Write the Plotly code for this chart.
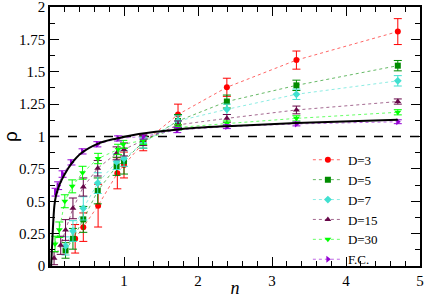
import plotly.graph_objects as go

# ---- data ----
n_d3 = [0.34, 0.45, 0.65, 0.91, 1.0, 1.26, 1.73, 2.39, 3.33, 4.70]
rho_d3 = [0.21, 0.30, 0.466, 0.716, 0.78, 0.95, 1.17, 1.38, 1.59, 1.81]
err_d3 = [0.11, 0.11, 0.165, 0.12, 0.10, 0.06, 0.08, 0.07, 0.07, 0.10]

n_d5 = [0.21, 0.31, 0.45, 0.645, 0.9, 1.0, 1.26, 1.73, 2.39, 3.33, 4.70]
rho_d5 = [0.12, 0.21, 0.36, 0.58, 0.77, 0.81, 0.96, 1.12, 1.27, 1.395, 1.547]
err_d5 = [0.06, 0.08, 0.10, 0.10, 0.07, 0.10, 0.05, 0.05, 0.05, 0.04, 0.04]

n_d7 = [0.21, 0.31, 0.45, 0.645, 0.9, 1.0, 1.26, 1.73, 2.39, 3.33, 4.70]
rho_d7 = [0.155, 0.27, 0.445, 0.64, 0.805, 0.83, 0.95, 1.12, 1.21, 1.326, 1.43]
err_d7 = [0.07, 0.08, 0.09, 0.08, 0.06, 0.06, 0.04, 0.04, 0.04, 0.04, 0.04]

n_d15 = [0.055, 0.145, 0.21, 0.31, 0.45, 0.645, 0.9, 1.0, 1.26, 1.73, 2.39, 3.33, 4.70]
rho_d15 = [0.06, 0.16, 0.278, 0.445, 0.61, 0.755, 0.87, 0.90, 0.97, 1.09, 1.14, 1.205, 1.27]
err_d15 = [0.05, 0.07, 0.08, 0.08, 0.07, 0.06, 0.05, 0.05, 0.04, 0.03, 0.03, 0.03, 0.02]

n_d30 = [0.068, 0.126, 0.2, 0.3, 0.44, 0.65, 0.92, 0.99, 1.26, 1.73, 2.39, 3.33, 4.70]
rho_d30 = [0.17, 0.28, 0.50, 0.615, 0.72, 0.83, 0.90, 0.94, 0.97, 1.07, 1.10, 1.14, 1.187]
err_d30 = [0.06, 0.06, 0.05, 0.05, 0.05, 0.04, 0.04, 0.03, 0.03, 0.02, 0.02, 0.02, 0.02]

n_fc = [0.075, 0.11, 0.17, 0.29, 0.44, 0.64, 0.92, 1.26, 1.72, 2.39, 3.33, 4.70]
rho_fc = [0.57, 0.62, 0.71, 0.80, 0.885, 0.94, 0.985, 1.0, 1.05, 1.076, 1.097, 1.114]
err_fc = [0.03, 0.03, 0.025, 0.02, 0.02, 0.02, 0.02, 0.02, 0.02, 0.015, 0.015, 0.015]

n_curve = [0.015, 0.03, 0.045, 0.06, 0.08, 0.1, 0.13, 0.2, 0.29, 0.42, 0.65, 0.9, 1.2, 1.73, 2.39, 3.33, 4.7]
rho_curve = [0.0, 0.18, 0.35, 0.47, 0.54, 0.58, 0.63, 0.71, 0.79, 0.87, 0.945, 0.985, 1.02, 1.055, 1.08, 1.105, 1.13]

ref_x = [0, 5]
ref_y = [1, 1]

series = [
    ("D=3", n_d3, rho_d3, err_d3, (255, 0, 0), "circle"),
    ("D=5", n_d5, rho_d5, err_d5, (0, 139, 0), "square"),
    ("D=7", n_d7, rho_d7, err_d7, (64, 224, 208), "diamond"),
    ("D=15", n_d15, rho_d15, err_d15, (103, 7, 72), "triangle-up"),
    ("D=30", n_d30, rho_d30, err_d30, (0, 255, 0), "triangle-down"),
    ("F.C.", n_fc, rho_fc, err_fc, (148, 0, 211), "triangle-right"),
]

SERIF = "Liberation Serif, Times New Roman, serif"

fig = go.Figure()

fig.add_trace(go.Scatter(x=ref_x, y=ref_y, mode="lines", showlegend=False,
                         line=dict(color="black", width=1.5, dash="dash")))

for name, xs, ys, es, rgb, sym in series:
    solid = "rgb(%d,%d,%d)" % rgb
    faded = "rgba(%d,%d,%d,0.6)" % rgb
    fig.add_trace(go.Scatter(
        x=xs, y=ys, name=name, mode="lines+markers",
        line=dict(color=faded, width=1, dash="dot"),
        marker=dict(symbol=sym, size=6, color=solid),
        error_y=dict(type="data", array=es, visible=True, color=solid,
                     thickness=1, width=4),
    ))

fig.add_trace(go.Scatter(x=n_curve, y=rho_curve, mode="lines", showlegend=False,
                         line=dict(color="black", width=2, shape="spline")))

axis_common = dict(
    showline=True, linecolor="black", linewidth=1.5, mirror="ticks",
    ticks="inside", ticklen=9, tickwidth=1, tickcolor="black",
    showgrid=False, zeroline=False, automargin=False,
    ticklabeloverflow="allow",
    tickfont=dict(family=SERIF, size=15, color="black"),
)

fig.update_xaxes(range=[0, 5], tickvals=[0, 1, 2, 3, 4, 5],
                 ticktext=["", "1", "2", "3", "4", "5"],
                 minor=dict(dtick=0.2, ticklen=5, ticks="inside", tickcolor="black"),
                 title=dict(text="<i>n</i>", standoff=0,
                            font=dict(family=SERIF, size=18, color="black")),
                 **axis_common)
fig.update_yaxes(range=[0, 2], tickvals=[0, 0.25, 0.5, 0.75, 1, 1.25, 1.5, 1.75, 2],
                 ticktext=["0", "0.25", "0.5", "0.75", "1", "1.25", "1.5", "1.75", "2"],
                 minor=dict(dtick=0.125, ticklen=5, ticks="inside", tickcolor="black"),
                 title=dict(text="ρ", standoff=6,
                            font=dict(family="Liberation Sans, Arial, sans-serif", size=19, color="black")),
                 **axis_common)

fig.update_layout(
    width=425, height=298,
    margin=dict(l=50, r=5, t=7, b=32),
    paper_bgcolor="white", plot_bgcolor="white",
    legend=dict(x=0.697, y=0.468, xanchor="left", yanchor="top",
                bgcolor="rgba(0,0,0,0)", tracegroupgap=0, itemwidth=30,
                font=dict(family=SERIF, size=13, color="black")),
)

fig.write_html("out.html", config={"displayModeBar": False},
               post_script="document.body.style.margin='0';document.body.style.padding='0';")
